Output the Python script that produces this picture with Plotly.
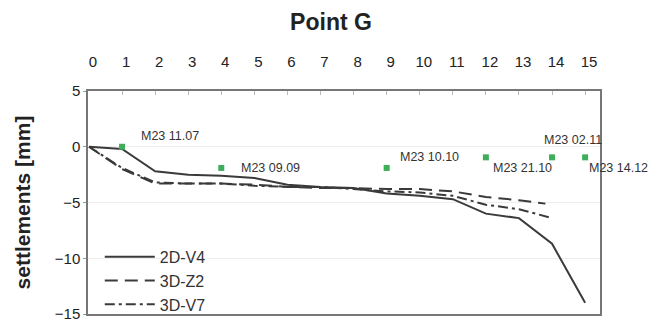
import plotly.graph_objects as go

# ---- data ----
x_v4 = [0, 1, 2, 3, 4, 5, 6, 7, 8, 9, 10, 11, 12, 13, 14, 15]
y_v4 = [0, -0.2, -2.2, -2.5, -2.6, -2.8, -3.4, -3.6, -3.7, -4.2, -4.4, -4.7, -6.0, -6.4, -8.7, -14.0]

x_z2 = [0, 1, 2, 3, 4, 5, 6, 7, 8, 9, 10, 11, 12, 13, 13.8]
y_z2 = [0, -2.0, -3.3, -3.3, -3.3, -3.4, -3.6, -3.7, -3.7, -3.8, -3.8, -4.0, -4.5, -4.8, -5.1]

x_v7 = [0, 1, 2, 3, 4, 5, 6, 7, 8, 9, 10, 11, 12, 13, 14]
y_v7 = [0, -1.9, -3.2, -3.3, -3.3, -3.5, -3.6, -3.6, -3.8, -4.0, -4.1, -4.4, -5.2, -5.6, -6.4]

meas_x = [1, 4, 9, 12, 14, 15]
meas_y = [0.0, -1.9, -1.9, -0.95, -0.95, -0.95]
meas_labels = ["M23 11.07", "M23 09.09", "M23 10.10", "M23 21.10", "M23 02.11", "M23 14.12"]
label_shift_x = [17, 18, 11, 5, -10, 2]
label_shift_y = [11, 0, 11, -11, 17, -11]

x_ticks = list(range(0, 16))
y_ticks = [5, 0, -5, -10, -15]

FONT = "Liberation Sans, Arial, sans-serif"
LINE_COLOR = "#3a3a3a"

fig = go.Figure()
fig.add_trace(go.Scatter(x=x_v4, y=y_v4, mode="lines", name="2D-V4",
                         line=dict(color=LINE_COLOR, width=2), legendgroup="a"))
fig.add_trace(go.Scatter(x=x_z2, y=y_z2, mode="lines", name="3D-Z2",
                         line=dict(color=LINE_COLOR, width=2, dash="13px,7px"), legendgroup="b"))
fig.add_trace(go.Scatter(x=x_v7, y=y_v7, mode="lines", name="3D-V7",
                         line=dict(color=LINE_COLOR, width=2, dash="10px,4px,3px,4px"), legendgroup="c"))
fig.add_trace(go.Scatter(x=meas_x, y=meas_y, mode="markers", showlegend=False,
                         marker=dict(symbol="square", size=6, color="#3fae5a")))

for xv, yv, t, sx, sy in zip(meas_x, meas_y, meas_labels, label_shift_x, label_shift_y):
    fig.add_annotation(x=xv, y=yv, text=t, showarrow=False, xanchor="left", yanchor="middle",
                       xshift=sx, yshift=sy, font=dict(family=FONT, size=12.5, color="#333"))

fig.update_layout(
    width=654, height=331,
    margin=dict(l=88, r=54, t=91, b=9),
    paper_bgcolor="white", plot_bgcolor="white",
    title=dict(text="<b>Point G</b>", x=331 / 654, xanchor="center", y=1 - 22 / 331, yanchor="middle",
               font=dict(family=FONT, size=23, color="#222")),
    showlegend=True,
    legend=dict(x=0.023, y=-0.035, xanchor="left", yanchor="bottom", bgcolor="rgba(0,0,0,0)",
                font=dict(family=FONT, size=16, color="#333"), tracegroupgap=0,
                itemwidth=50),
)
fig.update_xaxes(side="top", range=[-0.03, 15.45], tickvals=x_ticks, ticktext=[str(v) for v in x_ticks],
                 ticks="inside", ticklen=4, tickcolor="#bbb", showgrid=False, zeroline=False,
                 showline=True, linecolor="#777", linewidth=1.5, mirror=True,
                 ticklabelstandoff=16, ticklabelshift=4,
                 tickfont=dict(family=FONT, size=15, color="#222"))
fig.update_yaxes(range=[-15, 5], tickvals=y_ticks, ticks="outside", ticklen=3, tickcolor="#999",
                 showgrid=True, gridcolor="#eeeeee", zeroline=False,
                 showline=True, linecolor="#777", linewidth=1.5, mirror=True,
                 tickfont=dict(family=FONT, size=15, color="#222"),
                 title=dict(text="<b>settlements [mm]</b>", standoff=18,
                            font=dict(family=FONT, size=21, color="#222")))

fig.write_html("out.html")
